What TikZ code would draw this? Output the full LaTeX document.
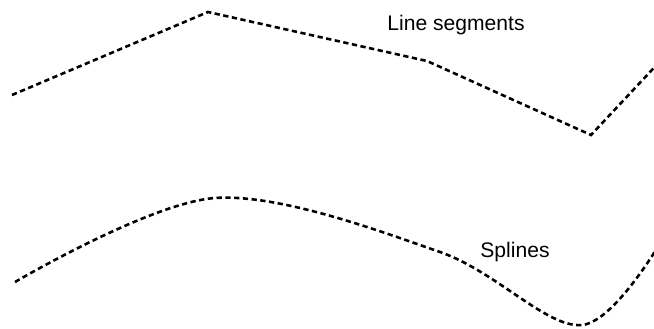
\documentclass[tikz,border=0pt]{standalone}
\usepackage{fontspec}
\setmainfont{Liberation Sans}
\usetikzlibrary{positioning}
\tikzstyle{trace}=[line width=2.2pt, dash pattern=on 4.5pt off 3pt]
\tikzstyle{every node}=[font=\fontsize{18}{21}\selectfont]

\begin{document}
\begin{tikzpicture}[x=0.03cm,y=-0.03cm]
  \useasboundingbox (0,0) rectangle (654,328);
  % polyline
  \coordinate (a1) at (12,95);
  \coordinate (a2) at (208,12);
  \coordinate (a3) at (427,61);
  \coordinate (a4) at (591,135);
  \coordinate (a5) at (665,56);
  \draw[trace] (a1) -- (a2) -- (a3) -- (a4) -- (a5);
  \node (lines) at (456,25) {Line segments};
  % same points, smoothed
  \draw[trace] plot[smooth, tension=0.55] coordinates {(15,282) (215,198) (440,252) (582,325) (668,230)};
  \node (splines) at (515,252) {Splines};
\end{tikzpicture}
\end{document}
